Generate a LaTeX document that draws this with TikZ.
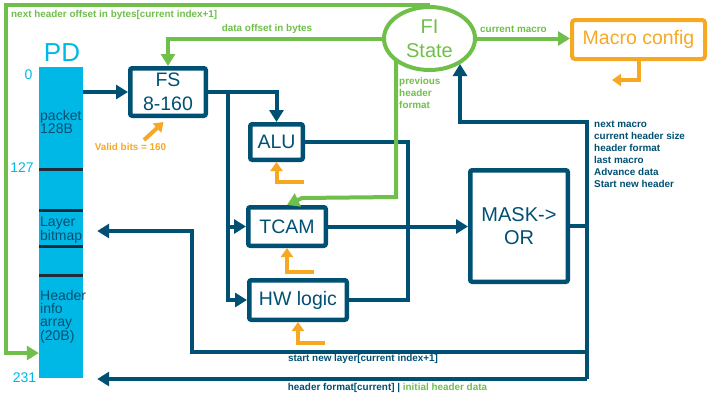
\documentclass[tikz,border=0pt]{standalone}
\usepackage{fontspec}
\setmainfont{Liberation Sans}
\usetikzlibrary{arrows.meta,shapes.geometric,calc}
\definecolor{dkb}{RGB}{0,80,115}
\definecolor{grn}{RGB}{112,191,75}
\definecolor{org}{RGB}{247,168,35}
\definecolor{cyn}{RGB}{0,184,230}
\definecolor{barline}{RGB}{30,45,55}
\newcommand{\fsz}[2]{\fontsize{#1}{#2}\selectfont}
\begin{document}
\begin{tikzpicture}[x=1pt,y=-1pt,
  blk/.style={draw=dkb, line width=4.5pt, rounded corners=2pt, text=dkb, font=\fsz{19.5}{24}, inner sep=0pt, align=center},
  bl/.style={draw=dkb, line width=4pt},
  bla/.style={bl, -{Triangle[length=12pt,width=14pt]}},
  gl/.style={draw=grn, line width=4pt},
  gla/.style={gl, -{Triangle[length=12pt,width=14pt]}},
  oa/.style={draw=org, line width=4pt, -{Triangle[length=9pt,width=12pt]}},
  lbl/.style={font=\bfseries\fsz{9.9}{12}, inner sep=0pt, align=left},
  barlbl/.style={font=\fsz{14}{13}, text=dkb, inner sep=0pt, align=left, anchor=north west},
  idx/.style={font=\fsz{14}{14}, text=cyn, inner sep=0pt}
]
\useasboundingbox (0,0) rectangle (720,405);

% PD bar
\node[fill=cyn, minimum width=44pt, minimum height=311pt, inner sep=0pt] (pd) at (61,222.5) {};
\foreach \yy in {169,210,246,275} \draw[barline, line width=3pt] (39,\yy) -- (83,\yy);
\node[font=\fsz{26}{26}, text=cyn, inner sep=0pt] (pdt) at (62,53) {PD};
\node[idx] (i0) at (28.5,75) {0};
\node[idx] (i127) at (22,168) {127};
\node[idx] (i231) at (24.5,378) {231};
\node[barlbl] (pk) at (40,110) {packet\\128B};
\node[barlbl] (lbm) at (40,217) {Layer\\bitmap};
\node[barlbl] (hia) at (40,290) {Header\\info\\array\\(20B)};

% blocks
\node[blk, minimum width=75.5pt, minimum height=47.5pt] (fs) at (168,92) {FS\\8-160};
\node[blk, minimum width=52.5pt, minimum height=35.5pt] (alu) at (276.5,142) {ALU};
\node[blk, minimum width=77.5pt, minimum height=38.5pt] (tcam) at (287,226.5) {TCAM};
\node[blk, minimum width=97.5pt, minimum height=39.5pt] (hw) at (298,300) {HW logic};
\node[blk, minimum width=97.5pt, minimum height=111.5pt, font=\fsz{20}{23}] (mask) at (519,226) {MASK->\\OR};
\node[blk, draw=org, text=org, minimum width=133pt, minimum height=39pt, line width=4pt, rounded corners=3pt] (macro) at (638.5,39.5) {Macro config};
\node[ellipse, draw=grn, line width=4pt, text=grn, font=\fsz{20}{24}, align=center, inner sep=0pt, minimum width=91pt, minimum height=63pt] (fi) at (429.5,38.5) {FI\\State};

% coordinates
\coordinate (b1) at (228,92);
\coordinate (jx) at (408,226);
\coordinate (rt) at (587,122);
\coordinate (rb) at (587,379);
\coordinate (fin) at (460,64);
\coordinate (lb) at (192,352);
\coordinate (lt) at (192,231);
\coordinate (gbl) at (6,353);
\coordinate (gpf) at (396,60);
\coordinate (gp2) at (396,197);
\coordinate (gp3) at (302,198);
\coordinate (oa1) at (304,182);
\coordinate (oa2) at (314,272);
\coordinate (oa3) at (325,343);
\coordinate (oa4) at (144,140);
\coordinate (oam) at (612,80);

% blue connectors
\draw[bla] (pd.east |- fs.west) -- (fs.west);
\draw[bla] (fs.east) -| (alu.north);
\draw[bla] (b1) |- (hw.west);
\draw[bla] (b1 |- tcam.west) -- (tcam.west);
\draw[bl] (alu.east) -| (jx |- hw.east) -- (hw.east);
\draw[bla] (tcam.east) -- (tcam.east -| mask.west);
\draw[bl] (mask.east) -- (mask.east -| rt);
\draw[bla] (rb) -- (rt) -| (fin);
\draw[bla] (rb) -- ($(pd.east |- rb)+(14,0)$);
\draw[bla] (rt |- lb) -- (lb) -- (lt) -- ($(pd.east |- lt)+(14,0)$);

% green connectors
\draw[gla] (fi.north) -| (gbl) -- (pd.west |- gbl);
\draw[gla] (fi.west) -| (fs.north);
\draw[gla] (fi.east) -- (fi.east -| macro.west);
\draw[gla] (gpf) -- (gp2) -- (gp3) -- (tcam.north);

% orange arrows
\draw[oa] (oa1) -| (alu.south);
\draw[oa] (oa2) -| (tcam.south);
\draw[oa] (oa3) -| (hw.south);
\draw[oa, shorten >=6pt] (oa4) -- (fs.south);
\draw[oa] (macro.south) |- (oam);

% labels
\node[lbl, text=grn, anchor=west] (t1) at (11,15) {next header offset in bytes[current index+1]};
\node[lbl, text=grn] (t2) at (267,29) {data offset in bytes};
\node[lbl, text=grn] (t3) at (513.5,29) {current macro};
\node[lbl, text=grn, anchor=north west] (t4) at (399,77) {previous\\header\\format};
\node[lbl, text=org] (t5) at (130.5,147) {Valid bits = 160};
\node[lbl, text=dkb, anchor=north west] (t6) at (594,121) {next macro\\current header size\\header format\\last macro\\Advance data\\Start new header};
\node[lbl, text=dkb] (t7) at (363,359) {start new layer[current index+1]};
\node[lbl, text=dkb] (t8) at (387.5,388) {header format[current] | \textcolor{grn}{initial header data}};
\end{tikzpicture}
\end{document}
